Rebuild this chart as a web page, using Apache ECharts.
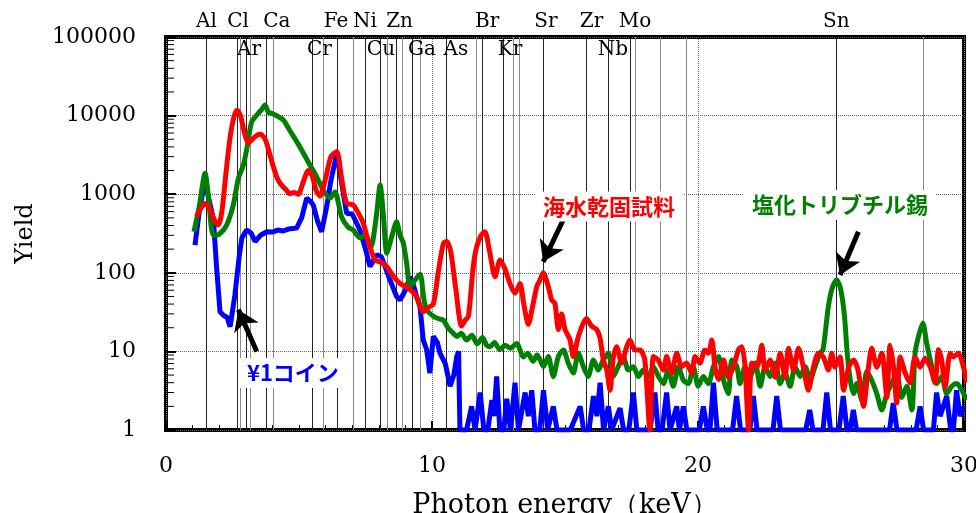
<!DOCTYPE html>
<html>
<head>
<meta charset="utf-8">
<script src="https://cdn.jsdelivr.net/npm/echarts@6/dist/echarts.min.js"></script>
<style>
  html, body { margin: 0; padding: 0; background: #fff; }
  #chart { width: 976px; height: 513px; }
</style>
</head>
<body>
<div id="chart"></div>
<script>
// 海水乾固試料 (red)
const redEnergy = [
  1.15, 1.3, 1.47, 1.65, 1.8, 1.97, 2.1, 2.25, 2.4, 2.55,
  2.68, 2.8, 2.95, 3.09, 3.3, 3.5, 3.6, 3.75, 3.95, 4.15,
  4.29, 4.5, 4.66, 4.8, 4.97, 5.15, 5.35, 5.5, 5.65, 5.79,
  6.0, 6.2, 6.42, 6.6, 6.79, 7.04, 7.2, 7.42, 7.6, 7.86,
  8.1, 8.3, 8.55, 8.8, 9.05, 9.25, 9.42, 9.67, 9.85, 10.05,
  10.25, 10.43, 10.55, 10.7, 10.9, 11.11, 11.25, 11.37, 11.55, 11.68,
  11.85, 11.99, 12.15, 12.37, 12.56, 12.75, 12.95, 13.12, 13.31, 13.45,
  13.62, 13.8, 13.94, 14.06, 14.18, 14.37, 14.5, 14.62, 14.75, 14.87,
  15.0, 15.19, 15.31, 15.5, 15.69, 15.81, 16.0, 16.19, 16.32, 16.44,
  16.57, 16.69, 16.82, 16.94, 17.13, 17.32, 17.44, 17.63, 17.82, 18.0,
  18.19, 18.32, 18.5, 18.7, 18.82, 19.01, 19.2, 19.39, 19.57, 19.76,
  19.89, 20.07, 20.26, 20.39, 20.52, 20.64, 20.77, 20.96, 21.14, 21.33,
  21.52, 21.65, 21.77, 21.9, 22.02, 22.21, 22.4, 22.52, 22.71, 22.9,
  23.09, 23.27, 23.4, 23.59, 23.78, 23.96, 24.15, 24.34, 24.53, 24.71,
  24.9, 25.03, 25.15, 25.34, 25.47, 25.66, 25.85, 26.03, 26.22, 26.41,
  26.53, 26.72, 26.91, 27.1, 27.22, 27.35, 27.47, 27.6, 27.79, 27.97,
  28.16, 28.35, 28.54, 28.73, 28.91, 29.04, 29.16, 29.29, 29.48, 29.6,
  29.79, 29.98, 30.1
];
const redYield = [
  515, 650, 760, 650, 480, 405, 600, 1800, 5000, 9500,
  11700, 10000, 6000, 4500, 5200, 5800, 5700, 4800, 2800, 1700,
  1380, 1150, 1020, 1050, 1000, 1400, 2000, 1700, 1100, 950,
  1600, 3000, 3500, 1600, 770, 730, 600, 425, 250, 146,
  135, 120, 90, 73, 66, 58, 50, 32, 36, 40,
  110, 237, 250, 190, 60, 21, 25, 28, 120, 215,
  300, 333, 200, 89, 146, 110, 70, 55, 73, 40,
  22, 40, 67, 81, 100, 67, 45, 41, 19, 30,
  19, 14, 8.6, 15.4, 23, 26, 21, 19, 14.7, 7.8,
  5.8, 3.2, 8.6, 11.5, 7.1, 11.5, 14, 10.4, 10.4, 7.8,
  1, 8.6, 7.8, 5.8, 8.6, 5.3, 9.5, 6.4, 7.1, 5.3,
  8.6, 7.1, 10.4, 9.5, 14, 6.3, 4.4, 7.8, 4.7, 6.3,
  10.5, 11.5, 6.3, 1, 7.1, 6.3, 12, 5.8, 7.8, 4.7,
  9.5, 4.7, 11, 5.8, 11, 6.3, 3.2, 6.3, 9.5, 8.5,
  5.8, 9.5, 6.3, 8.5, 3.2, 6.3, 7.8, 5.5, 2, 6.3,
  11, 6.3, 9.5, 2.6, 12, 6.3, 2.2, 8.5, 5.3, 4,
  8.5, 6.3, 8.2, 6.3, 4, 10.5, 7.8, 3.5, 9.5, 8.5,
  9.5, 6.3, 4
];

// 塩化トリブチル錫 (green)
const greenEnergy = [
  1.05, 1.25, 1.47, 1.6, 1.78, 2.0, 2.28, 2.53, 2.72, 2.91,
  3.05, 3.22, 3.47, 3.6, 3.72, 3.85, 3.97, 4.2, 4.41, 4.65,
  4.91, 5.15, 5.41, 5.65, 5.91, 6.17, 6.35, 6.6, 6.85, 7.04,
  7.29, 7.5, 7.7, 7.9, 8.05, 8.18, 8.3, 8.5, 8.67, 8.8,
  8.92, 9.05, 9.17, 9.35, 9.55, 9.7, 9.8, 10.05, 10.25, 10.43,
  10.6, 10.8, 10.93, 11.1, 11.3, 11.5, 11.7, 11.9, 12.05, 12.18,
  12.35, 12.55, 12.75, 12.95, 13.18, 13.44, 13.6, 13.8, 13.95, 14.06,
  14.19, 14.37, 14.56, 14.75, 14.94, 15.12, 15.31, 15.5, 15.69, 15.87,
  16.07, 16.25, 16.44, 16.63, 16.82, 17.0, 17.19, 17.38, 17.57, 17.76,
  17.94, 18.13, 18.32, 18.51, 18.7, 18.88, 19.07, 19.26, 19.45, 19.64,
  19.82, 20.01, 20.2, 20.39, 20.58, 20.77, 20.96, 21.14, 21.27, 21.46,
  21.58, 21.77, 21.96, 22.15, 22.34, 22.52, 22.71, 22.9, 23.09, 23.27,
  23.46, 23.65, 23.84, 24.03, 24.21, 24.4, 24.59, 24.7, 24.9, 25.05,
  25.21, 25.35, 25.5, 25.6, 25.72, 25.85, 25.97, 26.16, 26.35, 26.53,
  26.72, 26.91, 27.1, 27.28, 27.47, 27.66, 27.85, 28.04, 28.16, 28.3,
  28.45, 28.6, 28.79, 28.98, 29.16, 29.35, 29.54, 29.73, 29.92, 30.1
];
const greenYield = [
  333, 700, 1850, 900, 300, 310, 405, 730, 1590, 2350,
  4000, 8300, 10700, 12000, 13600, 11000, 10700, 9800, 8800, 6500,
  4700, 3400, 2350, 1700, 1130, 890, 1070, 515, 380, 350,
  280, 300, 210, 500, 1310, 500, 178, 300, 445, 300,
  240, 130, 66, 80, 96, 45, 34, 28, 26, 25,
  20, 17, 15.5, 17, 14, 16, 12.5, 15, 12, 11.5,
  13, 10.5, 12, 11, 12.6, 8.5, 9.5, 7.5, 9, 7.8,
  6.4, 8.6, 4.8, 8.6, 10.4, 7.1, 5.3, 9.5, 6.4, 4.8,
  7.8, 5.8, 7.8, 9.5, 4.8, 6.4, 8.6, 5.8, 6.4, 4.8,
  5.8, 4.8, 6.4, 4.8, 3.9, 5.8, 3.6, 6.4, 4.3, 3.9,
  6.4, 3.6, 4.8, 3.9, 6.4, 8.6, 4.3, 2.9, 7.8, 6.4,
  3.9, 6.4, 4.8, 7.1, 3.6, 6.4, 4.8, 7.1, 3.9, 5.3,
  3.6, 6.4, 4.8, 6.4, 4.3, 6.4, 9.5, 10.5, 37, 65,
  81, 65, 30, 10.5, 4.4, 2.9, 3.9, 2.4, 5.6, 4.3,
  2.9, 1.8, 2.9, 3.9, 5.3, 2.6, 3.6, 1.8, 9.5, 16,
  23, 12.6, 6.4, 3.9, 4.8, 2.9, 3.6, 3.9, 3.2, 2.4
];

// ¥1コイン (blue)
const blueEnergy = [
  1.09, 1.25, 1.47, 1.6, 1.78, 1.9, 2.03, 2.15, 2.3, 2.41,
  2.59, 2.75, 2.85, 3.03, 3.2, 3.35, 3.55, 3.79, 4.0, 4.2,
  4.4, 4.6, 4.91, 5.1, 5.29, 5.45, 5.54, 5.7, 5.85, 6.04,
  6.2, 6.42, 6.6, 6.79, 7.0, 7.29, 7.5, 7.67, 7.92, 8.1,
  8.42, 8.67, 8.8, 9.0, 9.17, 9.3, 9.42, 9.55, 9.67, 9.8,
  9.92, 10.05, 10.2, 10.3, 10.5, 10.68, 10.82, 10.93, 11.0, 11.05,
  11.3, 11.49, 11.62, 11.81, 11.95, 12.1, 12.25, 12.33, 12.43, 12.55,
  12.7, 12.81, 12.95, 13.12, 13.25, 13.5, 13.62, 13.75, 13.87, 14.05,
  14.19, 14.35, 14.56, 14.7, 15.2, 15.57, 15.7, 15.9, 16.07, 16.2,
  16.32, 16.45, 16.63, 16.75, 17.07, 17.2, 17.4, 17.57, 17.7, 18.2,
  18.38, 18.5, 18.65, 18.82, 18.95, 19.2, 19.3, 19.45, 19.58, 20.05,
  20.2, 20.35, 20.45, 20.58, 20.72, 21.3, 21.45, 21.6, 21.95, 22.08,
  22.22, 22.82, 22.96, 23.1, 24.05, 24.2, 24.32, 24.7, 24.84, 24.98,
  25.3, 25.46, 25.6, 25.72, 25.84, 25.96, 27.2, 27.34, 27.48, 28.2,
  28.35, 28.48, 28.85, 28.97, 29.1, 29.35, 29.5, 29.6, 29.72, 29.85,
  30.0
];
const blueYield = [
  225, 600, 1510, 900, 490, 120, 32, 29, 27, 20.6,
  52, 160, 275, 350, 320, 250, 300, 333, 330, 350,
  340, 360, 370, 500, 890, 800, 720, 450, 333, 690,
  1500, 3300, 1400, 570, 560, 350, 200, 120, 170, 160,
  81, 50, 45, 60, 89, 70, 50, 37, 14, 10.5,
  5.3, 15.5, 13, 9.5, 7, 3.6, 5, 8.6, 10, 1,
  1, 2, 1, 3, 1, 1, 2.4, 1.5, 4.8, 1,
  1, 2.5, 1, 4, 1, 3, 1.5, 3.2, 1, 1,
  3.2, 1, 2, 1, 1, 2, 1, 1, 2.7, 1.5,
  4, 1, 2, 1, 1.9, 1, 1, 3, 1, 1,
  3, 1, 1, 3, 1, 2, 1, 2, 1, 1,
  2, 1, 1, 4, 1, 1, 2.7, 1, 1, 2.7,
  1, 1, 2.7, 1, 1, 1.8, 1, 1, 3, 1,
  1, 2.7, 1, 1, 1.8, 1, 1, 2.2, 1, 1,
  2, 1, 1, 3, 1.5, 2.7, 1, 1, 3.2, 1.5,
  2
];

// element line energies (keV)
const mainLines = [1.53, 2.68, 3.0, 3.76, 5.48, 6.45, 7.5, 8.04, 8.65, 9.27, 10.55, 11.9, 12.67, 14.17, 15.81, 16.63, 17.47, 25.2];
const subLines = [2.78, 3.16, 4.02, 5.9, 7.03, 8.3, 8.9, 9.55, 11.68, 13.05, 13.27, 17.63, 18.57, 19.57, 28.45];

// element names and where their labels sit (keV)
const topNames = ['Al', 'Cl', 'Ca', 'Fe', 'Ni', 'Zn', 'Br', 'Sr', 'Zr', 'Mo', 'Sn'];
const topNameEnergy = [1.52, 2.71, 4.17, 6.39, 7.48, 8.78, 12.07, 14.28, 16.0, 17.63, 25.2];
const lowNames = ['Ar', 'Cr', 'Cu', 'Ga', 'As', 'Kr', 'Nb'];
const lowNameEnergy = [3.12, 5.77, 8.08, 9.62, 10.9, 12.93, 16.8];

const xTickLabels = ['0', '10', '20', '30'];
const yTickLabels = ['1', '10', '100', '1000', '10000', '100000'];

// annotations: [keV, yield]
const noteText = ['海水乾固試料', '塩化トリブチル錫', '¥1コイン'];
const noteColor = ['#ff0000', '#008000', '#0000ff'];
const notePos = [[16.65, 700], [25.34, 730], [4.77, 5.3]];
const arrowFrom = [[14.93, 470], [26.03, 333], [3.41, 10]];
const arrowTo = [[14.18, 138], [25.34, 94], [2.72, 34]];

const zip = (xs, ys) => xs.map((x, i) => [x, ys[i]]);

const minorTicks = [];
for (let d = 1; d < 100000; d *= 10) {
  for (let k = 2; k <= 9; k++) minorTicks.push([0, k * d]);
}

const serif = 'DejaVu Serif';
const chart = echarts.init(document.getElementById('chart'));

const elementLines = mainLines.map(e => ({ xAxis: e, lineStyle: { color: '#222', width: 1, type: 'solid' } }))
  .concat(subLines.map(e => ({ xAxis: e, lineStyle: { color: '#8a8a8a', width: 1, type: 'solid' } })));
const arrows = arrowFrom.map((a, i) => [
  { coord: a, lineStyle: { color: '#000', width: 5, type: 'solid' } },
  { coord: arrowTo[i] }
]);

function lineSeries(name, xs, ys, color, z, smooth) {
  return {
    name: name,
    type: 'line',
    data: zip(xs, ys),
    showSymbol: false,
    smooth: smooth,
    z: z,
    lineStyle: { color: color, width: 5 },
    itemStyle: { color: color },
    animation: false
  };
}

const option = {
  animation: false,
  grid: {
    left: 166, right: 12, top: 37, bottom: 83,
    outerBoundsMode: 'none', containLabel: false,
    show: true, borderColor: '#000', borderWidth: 4, backgroundColor: '#fff'
  },
  xAxis: {
    type: 'value', min: 0, max: 30, interval: 10,
    name: 'Photon energy（keV）', nameLocation: 'middle', nameGap: 62,
    nameTextStyle: { fontFamily: serif, fontSize: 27, color: '#000' },
    axisLine: { show: false },
    axisTick: { inside: true, length: 9, lineStyle: { color: '#000', width: 2 } },
    minorTick: { show: true, splitNumber: 10, length: 5, lineStyle: { color: '#000', width: 1 } },
    axisLabel: {
      margin: 25, fontFamily: serif, fontSize: 22, color: '#000',
      formatter: v => xTickLabels[Math.round(v / 10)]
    },
    splitLine: { show: true, lineStyle: { color: '#777', type: 'dotted', width: 1 } }
  },
  yAxis: {
    type: 'log', logBase: 10, min: 1, max: 100000, splitNumber: 5,
    name: 'Yield', nameLocation: 'middle', nameGap: 128, nameRotate: 90,
    nameTextStyle: { fontFamily: serif, fontSize: 24, color: '#000' },
    axisLine: { show: false },
    axisTick: { inside: true, length: 10, lineStyle: { color: '#000', width: 2 } },
    axisLabel: {
      margin: 30, fontFamily: serif, fontSize: 22, color: '#000',
      formatter: v => yTickLabels[Math.round(Math.log10(v))]
    },
    splitLine: { show: true, lineStyle: { color: '#666', type: 'dotted', width: 1 } }
  },
  series: [
    {
      type: 'line', data: [], z: 1, silent: true,
      markLine: {
        silent: true, symbol: 'none', z: 1, animation: false,
        label: { show: false },
        data: elementLines
      }
    },
    {
      type: 'custom', data: minorTicks, z: 6, silent: true, clip: false,
      renderItem: (params, api) => {
        const p = api.coord([0, api.value(1)]);
        return { type: 'line', shape: { x1: p[0] + 2, y1: p[1], x2: p[0] + 8, y2: p[1] }, style: { stroke: '#000', lineWidth: 1 } };
      }
    },
    lineSeries('blue', blueEnergy, blueYield, '#0000ff', 3, false),
    lineSeries('green', greenEnergy, greenYield, '#008000', 4, 0.25),
    lineSeries('red', redEnergy, redYield, '#ff0000', 5, 0.25),
    {
      type: 'line', data: [], z: 8, silent: true,
      markLine: {
        silent: true, symbol: ['none', 'arrow'], symbolSize: 20, z: 8, animation: false,
        label: { show: false },
        itemStyle: { color: '#000' },
        data: arrows
      }
    }
  ]
};
chart.setOption(option);

// texts placed through the axes
const graphics = [];
topNames.forEach((n, i) => {
  const x = chart.convertToPixel({ xAxisIndex: 0 }, topNameEnergy[i]);
  graphics.push({ type: 'text', x: x, y: 22, z: 10,
    style: { text: n, fontFamily: serif, fontSize: 20, fill: '#000', align: 'center', verticalAlign: 'middle' } });
});
lowNames.forEach((n, i) => {
  const x = chart.convertToPixel({ xAxisIndex: 0 }, lowNameEnergy[i]);
  graphics.push({ type: 'text', x: x, y: 50, z: 10,
    style: { text: n, fontFamily: serif, fontSize: 20, fill: '#000', align: 'center', verticalAlign: 'middle' } });
});
noteText.forEach((t, i) => {
  const p = chart.convertToPixel({ xAxisIndex: 0, yAxisIndex: 0 }, notePos[i]);
  graphics.push({ type: 'text', x: p[0], y: p[1], z: 10,
    style: {
      text: t, fontFamily: 'Noto Sans CJK JP', fontWeight: 'bold', fontSize: 22,
      fill: noteColor[i], align: 'center', verticalAlign: 'middle',
      backgroundColor: '#fff', padding: [4, 8]
    } });
});
chart.setOption({ graphic: graphics });
</script>
</body>
</html>
